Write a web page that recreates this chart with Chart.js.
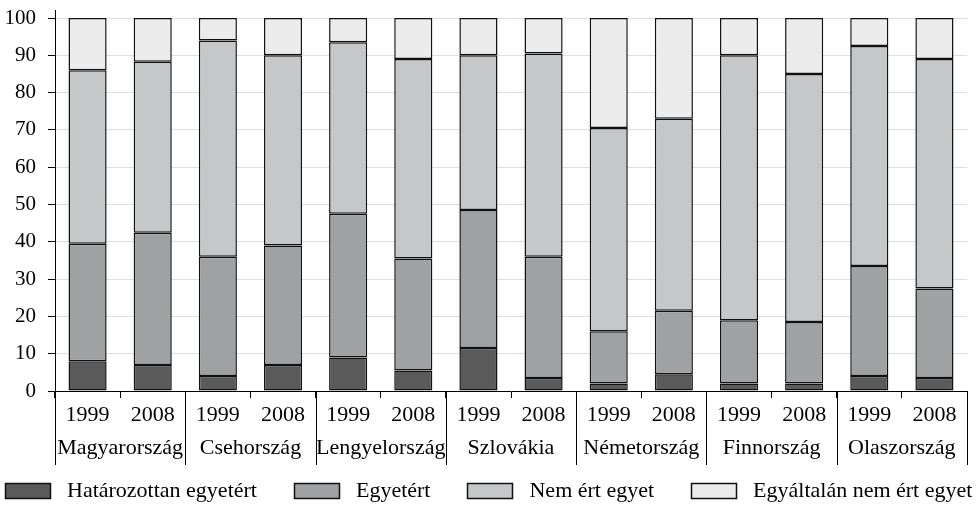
<!DOCTYPE html>
<html>
<head>
<meta charset="utf-8">
<script src="https://cdn.jsdelivr.net/npm/chart.js@4"></script>
<style>
  html, body { margin: 0; padding: 0; background: #fff; }
  #wrap { width: 977px; height: 506px; }
</style>
</head>
<body>
<div id="wrap"><canvas id="chart" width="977" height="506"></canvas></div>
<script>
// Data (percent)
const YEARS = ["1999", "2008", "1999", "2008", "1999", "2008", "1999", "2008",
               "1999", "2008", "1999", "2008", "1999", "2008"];
const COUNTRIES = ["Magyarország", "Csehország", "Lengyelország", "Szlovákia",
                   "Németország", "Finnország", "Olaszország"];
const Y_TICKS = [0, 10, 20, 30, 40, 50, 60, 70, 80, 90, 100];

const hatarozottan = [8, 7, 4, 7, 9, 5.5, 11.5, 3.5, 2, 4.5, 2, 2, 4, 3.5];
const egyetert     = [31.5, 35.4, 32, 32, 38.5, 30, 37, 32.5, 14, 17, 17, 16.5, 29.5, 24];
const nemErt       = [46.5, 45.9, 58, 51, 46, 53.5, 41.5, 54.5, 54.5, 51.5, 71, 66.5, 59, 61.5];
const egyaltalan   = [14, 11.7, 6, 10, 6.5, 11, 10, 9.5, 29.5, 27, 10, 15, 7.5, 11];

const SERIES_NAMES = ["Határozottan egyetért", "Egyetért", "Nem ért egyet", "Egyáltalán nem ért egyet"];
const COLORS = ["#5a5a5a", "#a0a1a2", "#c6c7c9", "#ebeceb"];

const FONT = "'Liberation Serif', 'DejaVu Serif', serif";

// vertical separators between the country groups, under the axis
const groupLines = {
  id: "groupLines",
  afterDraw(chart) {
    const { ctx, chartArea } = chart;
    const x = chart.scales.x, x2 = chart.scales.x2;
    const xs = [chartArea.left];
    for (let i = 1; i < COUNTRIES.length; i++) {
      xs.push((x.getPixelForValue(2 * i - 1) + x.getPixelForValue(2 * i)) / 2);
    }
    xs.push(chartArea.right);
    ctx.save();
    ctx.strokeStyle = "#000";
    ctx.lineWidth = 1;
    ctx.beginPath();
    xs.forEach((px) => {
      const p = Math.round(px) + 0.5;
      ctx.moveTo(p, chartArea.bottom);
      ctx.lineTo(p, x2.bottom);
    });
    // y axis line sticks out a little above 100
    ctx.moveTo(Math.round(chartArea.left) + 0.5, chartArea.top - 8);
    ctx.lineTo(Math.round(chartArea.left) + 0.5, chartArea.top);
    ctx.stroke();
    ctx.restore();
  },
};

// legend drawn in one row under the chart
const bottomLegend = {
  id: "bottomLegend",
  afterDraw(chart) {
    const { ctx, width } = chart;
    const boxW = 45, boxH = 15, gap = 17, spacing = 37;
    ctx.save();
    ctx.font = "22px " + FONT;
    const items = chart.data.datasets.map((ds) => ({
      ds, tw: ctx.measureText(ds.label).width,
    }));
    const total = items.reduce((s, it) => s + boxW + gap + it.tw, 0) + spacing * (items.length - 1);
    let cx = Math.round((width - total) / 2);
    const cy = 490;
    items.forEach((it) => {
      const bx = Math.round(cx), by = Math.round(cy - boxH / 2);
      ctx.fillStyle = it.ds.backgroundColor;
      ctx.fillRect(bx, by, boxW, boxH);
      ctx.strokeStyle = "#111";
      ctx.lineWidth = 1.5;
      ctx.strokeRect(bx + 0.5, by + 0.5, boxW, boxH);
      ctx.fillStyle = "#000";
      ctx.textBaseline = "middle";
      ctx.fillText(it.ds.label, cx + boxW + gap, cy + 1);
      cx += boxW + gap + it.tw + spacing;
    });
    ctx.restore();
  },
};

const seriesData = [hatarozottan, egyetert, nemErt, egyaltalan];

new Chart(document.getElementById("chart"), {
  type: "bar",
  data: {
    labels: YEARS,
    datasets: seriesData.map((d, i) => ({
      label: SERIES_NAMES[i],
      data: d,
      backgroundColor: COLORS[i],
      borderColor: "#111",
      borderWidth: 1.5,
      borderSkipped: false,
      categoryPercentage: 1,
      barPercentage: 0.585,
    })),
  },
  options: {
    responsive: false,
    animation: false,
    layout: { padding: { top: 18, right: 10, left: 0, bottom: 41 } },
    plugins: {
      legend: { display: false },
      tooltip: { enabled: false },
    },
    scales: {
      x: {
        stacked: true,
        offset: true,
        grid: { display: true, drawOnChartArea: false, offset: true, tickLength: 7, color: "#000" },
        border: { display: true, color: "#000" },
        ticks: { autoSkip: false, maxRotation: 0, color: "#000", padding: 4, font: { family: FONT, size: 22 } },
        afterFit: (s) => { s.height = 38; },
      },
      x2: {
        type: "category",
        position: "bottom",
        labels: COUNTRIES,
        offset: true,
        grid: { display: false },
        border: { display: false },
        ticks: { autoSkip: false, maxRotation: 0, color: "#000", padding: -2, font: { family: FONT, size: 22 } },
        afterFit: (s) => { s.height = 36; },
      },
      y: {
        stacked: true,
        min: 0,
        max: 100,
        afterBuildTicks: (s) => { s.ticks = Y_TICKS.map((v) => ({ value: v })); },
        grid: { color: "#dedede", tickColor: "#000", tickLength: 7 },
        border: { display: true, color: "#000" },
        ticks: { color: "#000", padding: 12, font: { family: FONT, size: 21 } },
        afterFit: (s) => { s.width = 55; s.paddingTop = 8; s.paddingBottom = 8; },
      },
    },
  },
  plugins: [groupLines, bottomLegend],
});
</script>
</body>
</html>
